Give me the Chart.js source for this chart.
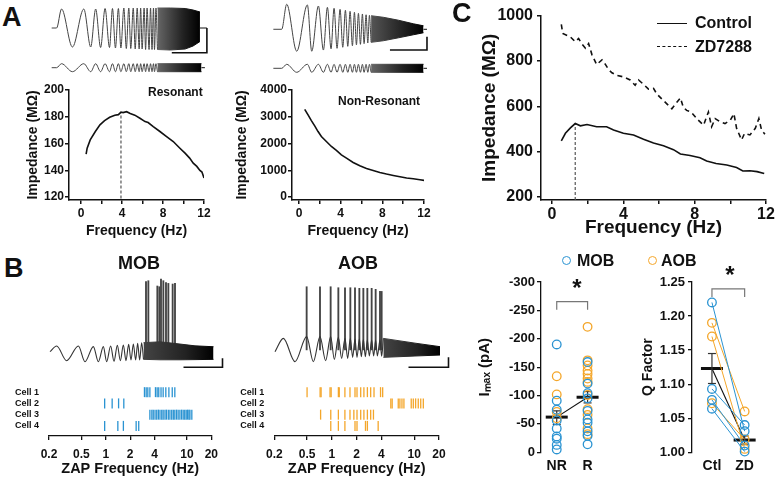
<!DOCTYPE html>
<html>
<head>
<meta charset="utf-8">
<script src="https://cdn.jsdelivr.net/npm/chart.js@4.4.1/dist/chart.umd.min.js"></script>
<style>
  html, body { margin: 0; padding: 0; background: #fff; overflow: hidden; }
  #fig { position: relative; width: 775px; height: 477px; overflow: hidden; background: #fff; }
  #fig canvas { position: absolute; }
  .txt { position: absolute; font-family: "Liberation Sans", Arial, sans-serif; font-weight: bold; color: #111; line-height: 1; white-space: nowrap; }
  .panel { font-size: 27px; }
  .ctr { transform: translateX(-50%); }
  .swatch { position: absolute; width: 30px; height: 0; }
  .dot { position: absolute; width: 7px; height: 7px; border-radius: 50%; border: 1.5px solid; }
</style>
</head>
<body>
<div id="fig">
  <canvas id="cA1t" width="170" height="78" style="left:45px;top:0px"></canvas>
  <canvas id="cA2t" width="170" height="78" style="left:270px;top:0px"></canvas>
  <canvas id="cA1" width="215" height="165" style="left:0px;top:80px"></canvas>
  <canvas id="cA2" width="213" height="165" style="left:222px;top:80px"></canvas>
  <canvas id="cC" width="321" height="243" style="left:455px;top:2px"></canvas>
  <canvas id="cBm" width="185" height="105" style="left:45px;top:270px"></canvas>
  <canvas id="cBa" width="185" height="105" style="left:270px;top:270px"></canvas>
  <canvas id="cRm" width="225" height="115" style="left:0px;top:370px"></canvas>
  <canvas id="cRa" width="230" height="115" style="left:225px;top:370px"></canvas>
  <canvas id="cI" width="147" height="209" style="left:470px;top:268px"></canvas>
  <canvas id="cQ" width="150" height="209" style="left:625px;top:268px"></canvas>

  <div class="txt panel" style="left:2px;top:4px">A</div>
  <div class="txt panel" style="left:4px;top:255px">B</div>
  <div class="txt panel" style="left:452px;top:0px">C</div>
  <div class="txt" style="left:148px;top:86px;font-size:12px">Resonant</div>
  <div class="txt" style="left:338px;top:95px;font-size:12px">Non-Resonant</div>
  <div class="txt ctr" style="left:139px;top:254px;font-size:18px">MOB</div>
  <div class="txt ctr" style="left:358px;top:254px;font-size:18px">AOB</div>

  <div class="swatch" style="left:657px;top:23px;border-top:1.6px solid #111"></div>
  <div class="txt" style="left:695px;top:15px;font-size:16px">Control</div>
  <div class="swatch" style="left:657px;top:46px;border-top:1.6px dashed #111"></div>
  <div class="txt" style="left:695px;top:39px;font-size:16px">ZD7288</div>

  <div class="dot" style="left:562px;top:256px;border-color:#2a93d2"></div>
  <div class="txt" style="left:577px;top:253px;font-size:16px">MOB</div>
  <div class="dot" style="left:648px;top:256px;border-color:#f4a62a"></div>
  <div class="txt" style="left:661px;top:253px;font-size:16px">AOB</div>

  <div class="txt ctr" style="left:577px;top:276px;font-size:24px">*</div>
  <div class="txt ctr" style="left:730px;top:263px;font-size:24px">*</div>
</div>

<script>
// ---- panel A: ZAP voltage / current traces (extrema) ----
const resT = [0, 1.0, 2.0, 4.2, 6.5, 7.9, 8.9, 9.9, 10.8, 11.7, 12.3, 12.9, 13.5, 14.0, 14.6, 15.1, 15.6, 16.0, 16.5, 16.9, 17.3, 17.7, 18.0, 18.3, 18.7, 19.0, 19.3, 19.7, 20.0, 20.3, 20.6, 20.8, 21.1, 21.4];
const resV = [0, 0, 3.8, -3.8, 3.8, -3.8, 3.8, -3.9, 3.9, -3.9, 3.9, -4.0, 3.9, -4.0, 4.0, -4.1, 4.0, -4.1, 4.0, -4.2, 4.0, -4.2, 4.0, -4.2, 4.0, -4.3, 4.0, -4.3, 4.0, -4.3, 4.0, -4.3, 4.0, -4.3];
const resCurV = [0, 0, 40, -40, 40, -40, 40, -40, 40, -40, 40, -40, 40, -40, 40, -40, 40, -40, 40, -40, 40, -40, 40, -40, 40, -40, 40, -40, 40, -40, 40, -40, 40, -40];
const resBandT = [21.4, 24, 27, 28.6, 30];
const resBandHi = [4.0, 4.0, 3.9, 3.6, 3.2];
const resBandLo = [-4.3, -4.4, -4.2, -3.6, -2.7];
const resCurBandT = [21.4, 30.3];
const resCurBandHi = [40, 40];
const resCurBandLo = [-40, -40];
const resTailT = [30, 31.4];
const resTailV = [0, 0];
const resCurTailT = [30.3, 31.0];
const resBarT = [24.3, 31.4, 31.4];
const resBarV = [-4.94, -4.94, 0];

const nrT = [0, 1.67, 2.67, 4.67, 6.8, 7.67, 9.0, 10.0, 10.8, 11.53, 12.13, 12.73, 13.33, 13.87, 14.4, 14.87, 15.33, 15.8, 16.2, 16.6, 17.0, 17.4, 17.8, 18.13, 18.53, 18.87, 19.2, 19.53];
const nrV = [0, 0, 18.8, -16.5, 18.3, -16.5, 17.5, -15.6, 16.5, -14.7, 15.8, -14.3, 15.0, -13.5, 14.3, -12.8, 13.5, -12.4, 12.8, -11.7, 12.0, -11.3, 11.5, -10.8, 10.9, -10.3, 10.5, -9.8];
const nrCurV = [0, 0, 40, -40, 40, -40, 40, -40, 40, -40, 40, -40, 40, -40, 40, -40, 40, -40, 40, -40, 40, -40, 40, -40, 40, -40, 40, -40];
const nrBandT = [19.53, 22, 25, 28, 30];
const nrBandHi = [10.2, 9.0, 6.8, 4.1, 2.6];
const nrBandLo = [-9.8, -8.6, -6.4, -4.1, -2.6];
const nrCurBandT = [19.53, 30];
const nrCurBandHi = [40, 40];
const nrCurBandLo = [-40, -40];
const nrTailT = [30, 30.7];
const nrTailV = [0, 0];
const nrBarT = [23.3, 30.7, 30.7];
const nrBarV = [-15.6, -15.6, -5.6];

// ---- panel A: impedance profiles ----
const resF = [0.5, 0.6, 0.9, 1.4, 1.85, 2.3, 2.8, 3.3, 3.65, 3.9, 4.1, 4.45, 4.8, 5.25, 5.75, 6.25, 6.55, 7.05, 7.7, 8.35, 9.0, 9.65, 10.15, 10.6, 10.95, 11.3, 11.6, 11.8, 12.0];
const resZ = [152, 156.5, 162.7, 169, 174, 177.1, 179.6, 181.2, 181.6, 183.5, 183.1, 183.8, 182.4, 181.2, 178.9, 176.4, 175.7, 172.7, 169, 165.2, 161.5, 156.5, 152.8, 149.1, 145.3, 142.9, 139.9, 138.7, 134.2];
const resPeakF = [3.9, 3.9];
const resPeakZ = [119, 183.5];
const nrF = [0.55, 0.87, 1.19, 1.51, 1.83, 2.15, 2.63, 3.11, 3.59, 4.07, 4.56, 5.2, 5.84, 6.48, 7.12, 7.76, 8.4, 9.05, 9.69, 10.33, 10.97, 11.61, 12.0];
const nrZ = [3279, 3068, 2857, 2658, 2447, 2260, 2074, 1888, 1739, 1577, 1453, 1292, 1167, 1068, 994, 919, 857, 807, 758, 708, 683, 646, 621];

// ---- panel C ----
const ctlF = [0.52, 0.75, 1.03, 1.3, 1.59, 1.96, 2.5, 3.06, 3.45, 4.0, 4.57, 5.13, 5.69, 6.25, 6.81, 7.2, 7.74, 8.3, 8.67, 9.2, 9.8, 10.35, 10.7, 11.1, 11.5, 11.9];
const ctlZ = [448, 481, 505, 524, 514, 520, 510, 510, 496, 481, 474, 455, 438, 426, 409, 390, 383, 373, 359, 348, 341, 330, 315, 316, 312, 304];
const zdF = [0.52, 0.6, 1.03, 1.3, 1.49, 1.68, 1.87, 2.05, 2.24, 2.5, 2.8, 3.0, 3.17, 3.36, 3.64, 4.0, 4.38, 4.66, 4.85, 5.13, 5.41, 5.69, 5.88, 6.16, 6.44, 6.72, 7.0, 7.2, 7.36, 7.55, 7.8, 8.2, 8.5, 8.77, 8.95, 9.15, 9.42, 9.7, 10.0, 10.2, 10.35, 10.63, 10.8, 11.1, 11.4, 11.6, 11.75, 11.94];
const zdZ = [961, 921, 906, 885, 899, 875, 856, 877, 827, 784, 805, 784, 762, 748, 736, 730, 716, 693, 716, 697, 676, 679, 654, 632, 611, 589, 618, 637, 596, 582, 575, 539, 517, 575, 510, 546, 532, 524, 539, 568, 503, 452, 481, 474, 503, 546, 496, 477];
const ctlPeakF = [1.3, 1.3];
const ctlPeakZ = [187, 522];

const freqTicks = [0, 2, 4, 6, 8, 10, 12];
const freqLabels = [0, 4, 8, 12];

// ---- panel B: spiking traces ----
const mobT = [0, 1.33, 3.33, 5.67, 7.0, 8.67, 9.67, 10.67, 11.33, 12.13, 12.8, 13.47, 14.07, 14.67, 15.2, 15.73, 16.2, 16.67, 17.13, 17.53, 17.93, 18.33, 18.7];
const mobV = [0, 6.3, -10, 6.3, -11.1, 5.6, -11.1, 5.6, -11.1, 6.3, -10.7, 7.0, -10, 7.4, -10, 8.1, -9.3, 8.5, -9.3, 9.3, -9.3, 10, -8.5];
const mobBandT = [18.7, 22, 26, 29, 32.7];
const mobBandHi = [10, 11, 8.5, 6.5, 5.5];
const mobBandLo = [-8.5, -9, -9, -8.8, -8.5];
const mobSpikeT = [19.2, 19.67, 21.47, 21.87, 22.2, 22.67, 23.2, 23.67, 24.53, 25.0];
const mobSpikeTop = [77.8, 78.9, 73, 72.2, 80.7, 78.9, 76.7, 75.9, 75.2, 75.9];
const mobBarT = [26.7, 34.5, 34.5];
const mobBarV = [-17.3, -17.3, -7.3];

const aobT = [0, 1.67, 4.0, 6.33, 7.67, 9.0, 10.13, 11.13, 11.87, 12.67, 13.33, 14.0, 14.53, 15.07, 15.53, 16.0, 16.4, 16.87, 17.27, 17.67, 18.07, 18.47, 18.87, 19.33, 19.73, 20.13, 20.47, 21.0, 21.33, 21.67];
const aobV = [0, 14.8, -11.1, 16.7, -11.1, 16.7, -10, 16.7, -8.5, 16, -7.4, 15, -7.4, 15, -6.3, 14, -6.3, 14, -5.6, 13.5, -5.6, 13, -4.8, 13, -4.8, 13, -4.8, 13, -5, 14.8];
const aobBandT = [21.67, 25, 28, 33];
const aobBandHi = [14.8, 12, 9.5, 5.6];
const aobBandLo = [-6.3, -5.5, -4.8, -3.7];
const aobSpikeT = [6.33, 9.0, 11.13, 12.67, 14.0, 15.07, 16.0, 16.87, 17.67, 18.47, 19.33, 20.13, 21.0, 21.33];
const aobSpikeTop = [72.2, 72.2, 72.2, 71.1, 71.1, 71.1, 71.1, 70.4, 70.4, 70.4, 70.4, 69.3, 67, 67];
const aobBarT = [26.7, 34.7, 34.7];
const aobBarV = [-17.3, -17.3, -6.2];
const spikeBase = 2;

// ---- panel B: rasters (spike frequency, Hz) ----
const cellLabels = ['Cell 1', 'Cell 2', 'Cell 3', 'Cell 4'];
const zapTicks = [0.2, 0.5, 1, 2, 4, 10, 20];
const mobCell1 = [3.0, 3.15, 3.3, 3.5, 4.1, 4.3, 4.5, 4.8, 5.1, 5.5, 6.0, 6.6, 7.1];
const mobCell2 = [0.97, 1.2, 1.44, 1.67];
const mobCell3 = [3.5, 3.7, 3.85, 4.05, 4.25, 4.45, 4.66, 4.9, 5.1, 5.37, 5.6, 5.9, 6.18, 6.5, 6.8, 7.1, 7.45, 7.8, 8.2, 8.6, 9.0, 9.4, 9.8, 10.2, 10.6, 10.9, 11.5];
const mobCell4 = [0.97, 1.41, 1.65, 2.37, 2.55];
const aobCell1 = [0.5, 0.72, 0.74, 0.95, 0.98, 1.2, 1.23, 1.44, 1.66, 1.91, 2.02, 2.24, 2.45, 2.7, 2.96, 3.25, 3.9, 4.14];
const aobCell2 = [5.2, 5.4, 6.4, 6.7, 7.1, 7.5, 9.2, 9.75, 10.4, 11.2, 12.0, 12.9];
const aobCell3 = [0.73, 0.97, 1.2, 1.44, 1.66, 1.85, 2.02, 2.24, 2.45, 2.7, 2.96, 3.2];
const aobCell4 = [0.97, 1.2, 1.44, 1.91, 2.02, 2.56, 2.7, 3.65];

// ---- Imax (pA) ----
const imaxGroups = ['NR', 'R'];
const imaxTicks = [-300, -250, -200, -150, -100, -50, 0];
const imaxNRMob = [-190, -91, -75, -56, -42, -28, -24, -13, -5];
const imaxNRAob = [-134, -102, -71, -60];
const imaxRMob = [-159, -121, -104, -95, -73, -58, -52, -37, -29, -14];
const imaxRAob = [-221, -162, -153, -144, -138, -130, -124, -101, -76, -66, -42, -32];
const imaxMean = [-62, -97];
const imaxSemLo = [-49, -87];
const imaxSemHi = [-73, -107];
const imaxBracketX = [0, 0, 1, 1];
const imaxBracketY = [-251, -265.5, -265.5, -251];

// ---- Q factor ----
const qGroups = ['Ctl', 'ZD'];
const qTicks = [1.00, 1.05, 1.10, 1.15, 1.20, 1.25];
const qCtlMob = [1.220, 1.093, 1.077, 1.064];
const qZdMob = [1.031, 1.040, 1.010, 1.001];
const qCtlAob = [1.190, 1.170, 1.072];
const qZdAob = [1.060, 1.005, 1.019];
const qMean = [1.123, 1.018];
const qSemLo = [1.101, 1.012];
const qSemHi = [1.145, 1.024];
const qBracketX = [0, 0, 1, 1];
const qBracketY = [1.228, 1.240, 1.240, 1.228];

const BLUE = '#2a93d2';
const ORANGE = '#f4a62a';
const INK = '#111';
const FONT = '"Liberation Sans", Arial, sans-serif';

Chart.defaults.font.family = FONT;
Chart.defaults.font.weight = 'bold';
Chart.defaults.color = INK;
Chart.defaults.animation = false;
Chart.defaults.responsive = false;
Chart.defaults.devicePixelRatio = 1;
Chart.defaults.events = [];
Chart.defaults.plugins.legend.display = false;
Chart.defaults.plugins.tooltip.enabled = false;
Chart.defaults.elements.point.radius = 0;
Chart.defaults.elements.line.tension = 0;

const pts = (xs, ys) => xs.map((x, i) => ({ x, y: ys[i] }));
const ticksFrom = vals => s => { s.ticks = vals.map(v => ({ value: v })); };

// grey-to-black fill for the dense end of a chirp
function sweepFill(t0, t1, c0, c1) {
  return ctx => {
    const ch = ctx.chart;
    if (!ch.chartArea) return c1;
    const x = ch.scales.x;
    const g = ch.ctx.createLinearGradient(x.getPixelForValue(t0), 0, x.getPixelForValue(t1), 0);
    g.addColorStop(0, c0);
    g.addColorStop(0.6, '#222');
    g.addColorStop(1, c1);
    return g;
  };
}

function band(ts, hi, lo, yAxisID, c0) {
  const col = sweepFill(ts[0], ts[ts.length - 1], c0, '#000');
  return [
    { data: pts(ts, hi), yAxisID, borderColor: col, backgroundColor: col, borderWidth: 1, fill: '+1' },
    { data: pts(ts, lo), yAxisID, borderColor: col, borderWidth: 1, fill: false }
  ];
}

// smooth curve through the read peaks and troughs
function traceLine(xs, ys, yAxisID, color, width) {
  return { data: pts(xs, ys), yAxisID, borderColor: color, borderWidth: width, fill: false,
           cubicInterpolationMode: 'monotone' };
}

function barLine(xs, ys) {
  return { data: pts(xs, ys), yAxisID: 'yv', borderColor: INK, borderWidth: 1.6, fill: false };
}

function spikes(ts, tops) {
  return {
    type: 'bar', xAxisID: 'x', yAxisID: 'yv',
    data: ts.map((t, i) => ({ x: t, y: [spikeBase, tops[i]] })),
    backgroundColor: '#444', barThickness: 1.2, borderWidth: 0
  };
}

function traceChart(id, datasets, xr, yv, yc) {
  const scales = {
    x: { type: 'linear', display: false, min: xr[0], max: xr[1], offset: false },
    yv: { type: 'linear', display: false, min: yv[0], max: yv[1] }
  };
  if (yc) scales.yc = { type: 'linear', display: false, min: yc[0], max: yc[1] };
  return new Chart(document.getElementById(id), {
    type: 'line',
    data: { datasets },
    options: { layout: { padding: 0 }, scales }
  });
}

// A traces
traceChart('cA1t', [
  traceLine(resT, resV, 'yv', '#444', 1),
  ...band(resBandT, resBandHi, resBandLo, 'yv', '#666'),
  traceLine(resTailT, resTailV, 'yv', INK, 1),
  traceLine(resT, resCurV, 'yc', '#444', 1),
  ...band(resCurBandT, resCurBandHi, resCurBandLo, 'yc', '#666'),
  traceLine(resCurTailT, resTailV, 'yc', INK, 1),
  barLine(resBarT, resBarV)
], [-1.35, 33.04], [-10, 5.6], [-103, 677]);

traceChart('cA2t', [
  traceLine(nrT, nrV, 'yv', '#444', 1),
  ...band(nrBandT, nrBandHi, nrBandLo, 'yv', '#555'),
  traceLine(nrTailT, nrTailV, 'yv', INK, 1),
  traceLine(nrT, nrCurV, 'yc', '#444', 1),
  ...band(nrCurBandT, nrCurBandHi, nrCurBandLo, 'yc', '#666'),
  traceLine(nrTailT, nrTailV, 'yc', INK, 1),
  barLine(nrBarT, nrBarV)
], [-0.67, 33.3], [-36.6, 22.0], [-97, 683]);

// B traces
traceChart('cBm', [
  traceLine(mobT, mobV, 'yv', '#333', 1.1),
  ...band(mobBandT, mobBandHi, mobBandLo, 'yv', '#444'),
  spikes(mobSpikeT, mobSpikeTop),
  barLine(mobBarT, mobBarV)
], [-1, 36], [-25.9, 90.8]);

traceChart('cBa', [
  traceLine(aobT, aobV, 'yv', '#333', 1.1),
  ...band(aobBandT, aobBandHi, aobBandLo, 'yv', '#444'),
  spikes(aobSpikeT, aobSpikeTop),
  barLine(aobBarT, aobBarV)
], [-1, 36], [-25.9, 90.8]);

// impedance plots
function impedanceChart(id, datasets, o) {
  return new Chart(document.getElementById(id), {
    type: 'line',
    data: { datasets },
    options: {
      layout: { padding: { top: o.padTop, right: o.padRight, left: 0, bottom: 0 } },
      scales: {
        x: {
          type: 'linear', min: o.xMin, max: 12,
          afterFit: s => { s.height = o.xH; },
          afterBuildTicks: ticksFrom(freqTicks),
          border: { color: INK, width: 1.5 },
          grid: { drawOnChartArea: false, color: INK, lineWidth: 1.5, tickLength: 4 },
          ticks: { font: { size: o.tick }, padding: o.xTickPad, autoSkip: false, maxRotation: 0,
                   callback: v => freqLabels.includes(v) ? String(v) : '' },
          title: { display: true, text: 'Frequency (Hz)', font: { size: o.title }, padding: { top: 0, bottom: o.xTitlePad } }
        },
        y: {
          type: 'linear', min: o.yMin, max: o.yMax,
          afterFit: s => { s.width = o.yW; },
          afterBuildTicks: ticksFrom(o.yTicks),
          border: { color: INK, width: 1.5 },
          grid: { drawOnChartArea: false, color: INK, lineWidth: 1.5, tickLength: 4 },
          ticks: { font: { size: o.tick }, padding: o.yTickPad, callback: v => String(v) },
          title: { display: true, text: 'Impedance (MΩ)', font: { size: o.title }, padding: { top: o.yTitlePad, bottom: 0 } }
        }
      }
    }
  });
}

impedanceChart('cA1', [
  { data: pts(resF, resZ), borderColor: INK, borderWidth: 1.6 },
  { data: pts(resPeakF, resPeakZ), borderColor: '#555', borderWidth: 1.2, borderDash: [3, 2] }
], { padTop: 10, padRight: 11, xH: 45, yW: 69, xMin: -1.17, yMin: 117.8, yMax: 200,
     yTicks: [120, 140, 160, 180, 200], tick: 12, title: 14, xTickPad: 2, yTickPad: 1,
     xTitlePad: 5.6, yTitlePad: 24.6 });

impedanceChart('cA2', [
  { data: pts(nrF, nrZ), borderColor: INK, borderWidth: 1.6 }
], { padTop: 10, padRight: 11, xH: 45, yW: 70, xMin: -0.67, yMin: -112, yMax: 4000,
     yTicks: [0, 1000, 2000, 3000, 4000], tick: 12, title: 14, xTickPad: 2, yTickPad: 1,
     xTitlePad: 5.6, yTitlePad: 11.6 });

impedanceChart('cC', [
  { data: pts(ctlF, ctlZ), borderColor: INK, borderWidth: 1.6 },
  { data: pts(zdF, zdZ), borderColor: INK, borderWidth: 1.6, borderDash: [5, 4] },
  { data: pts(ctlPeakF, ctlPeakZ), borderColor: '#555', borderWidth: 1.2, borderDash: [3, 2] }
], { padTop: 10, padRight: 10, xH: 45, yW: 86, xMin: -0.62, yMin: 187, yMax: 1000,
     yTicks: [200, 400, 600, 800, 1000], tick: 16, title: 19, xTickPad: 1, yTickPad: 4,
     xTitlePad: 5.6, yTitlePad: 23.6 });

// rasters
function rasterChart(id, cells, color, o) {
  return new Chart(document.getElementById(id), {
    type: 'scatter',
    data: {
      datasets: cells.map((c, i) => ({
        data: c.map(f => ({ x: f, y: i })),
        pointStyle: 'line', rotation: 90, pointRadius: 5,
        pointBorderWidth: 1.3, pointBorderColor: color, clip: false
      }))
    },
    options: {
      layout: { padding: { top: 7, right: o.padRight, left: 0, bottom: 0 } },
      scales: {
        x: {
          type: 'logarithmic', min: 0.2, max: 20,
          afterFit: s => { s.height = 49; },
          afterBuildTicks: ticksFrom(zapTicks),
          border: { color: INK, width: 1.3 },
          grid: { drawOnChartArea: false, color: INK, lineWidth: 1.3, tickLength: 4 },
          ticks: { font: { size: 12 }, padding: 7, autoSkip: false, maxRotation: 0, callback: v => String(v) },
          title: { display: true, text: 'ZAP Frequency (Hz)', font: { size: 14.5 }, padding: { top: 0, bottom: 7.5 } }
        },
        y: {
          type: 'linear', reverse: true, min: -0.6, max: 3.9,
          afterFit: s => { s.width = o.yW; },
          afterBuildTicks: ticksFrom(cellLabels.map((_, i) => i)),
          border: { display: false },
          grid: { display: false, drawTicks: false },
          ticks: { font: { size: 9 }, padding: 10, callback: v => cellLabels[v] }
        }
      }
    }
  });
}

rasterChart('cRm', [mobCell1, mobCell2, mobCell3, mobCell4], BLUE, { yW: 49, padRight: 13 });
rasterChart('cRa', [aobCell1, aobCell2, aobCell3, aobCell4], ORANGE, { yW: 49.3, padRight: 16 });

// group scatter plots
function circles(group, vals, color) {
  return {
    data: vals.map(v => ({ x: group, y: v })),
    pointStyle: 'circle', pointRadius: 4.3, pointBorderWidth: 1.3,
    pointBorderColor: color, pointBackgroundColor: 'rgba(0,0,0,0)', clip: false
  };
}

function pairs(ctl, zd, color) {
  return ctl.map((c, i) => ({
    data: [{ x: 0, y: c }, { x: 1, y: zd[i] }],
    showLine: true, borderColor: color, borderWidth: 1,
    pointStyle: 'circle', pointRadius: 4.3, pointBorderWidth: 1.3,
    pointBorderColor: color, pointBackgroundColor: 'rgba(0,0,0,0)', clip: false
  }));
}

function summary(mean, lo, hi, bx, by) {
  const sets = mean.map((m, i) => ({
    data: [{ x: i, y: lo[i] }, { x: i, y: hi[i] }],
    showLine: true, borderColor: '#333', borderWidth: 1.2,
    pointStyle: 'line', pointRadius: 4, pointBorderWidth: 1.2, pointBorderColor: '#333', clip: false
  }));
  sets.push({
    data: mean.map((m, i) => ({ x: i, y: m })),
    showLine: true, borderColor: INK, borderWidth: 1.1,
    pointStyle: 'line', pointRadius: 11, pointBorderWidth: 3, pointBorderColor: INK, clip: false
  });
  sets.push({ data: pts(bx, by), showLine: true, borderColor: '#777', borderWidth: 1.2, clip: false });
  return sets;
}

function groupChart(id, datasets, o) {
  return new Chart(document.getElementById(id), {
    type: 'scatter',
    data: { datasets },
    options: {
      layout: { padding: { top: 10.3, right: o.padRight, left: 0, bottom: 0 } },
      scales: {
        x: {
          type: 'linear', min: o.xMin, max: 1.5,
          afterFit: s => { s.height = 24.7; },
          afterBuildTicks: ticksFrom(o.groups.map((_, i) => i)),
          border: { display: false },
          grid: { display: false, drawTicks: false },
          ticks: { font: { size: 14 }, padding: 5, autoSkip: false, callback: v => o.groups[v] }
        },
        y: {
          type: 'linear', reverse: o.reverse, min: o.yMin, max: o.yMax,
          afterFit: s => { s.width = o.yW; },
          afterBuildTicks: ticksFrom(o.yTicks),
          border: { color: INK, width: 1.3 },
          grid: { drawOnChartArea: false, color: INK, lineWidth: 1.3, tickLength: 4 },
          ticks: { font: { size: 13 }, padding: o.yTickPad, callback: o.fmt },
          title: { display: true, text: o.title, font: { size: o.titleSize }, padding: { top: o.yTitlePad, bottom: 0 } }
        }
      }
    }
  });
}

groupChart('cI', [
  circles(0, imaxNRMob, BLUE), circles(0, imaxNRAob, ORANGE),
  circles(1, imaxRMob, BLUE), circles(1, imaxRAob, ORANGE),
  ...summary(imaxMean, imaxSemLo, imaxSemHi, imaxBracketX, imaxBracketY)
], { groups: imaxGroups, xMin: -0.51, padRight: 5, yW: 71, reverse: true, yMin: -300, yMax: 0,
     yTicks: imaxTicks, yTickPad: 2, fmt: v => String(v), title: 'Iₘₐₓ (pA)', titleSize: 15, yTitlePad: 5.6 });

groupChart('cQ', [
  ...pairs(qCtlMob, qZdMob, BLUE), ...pairs(qCtlAob, qZdAob, ORANGE),
  ...summary(qMean, qSemLo, qSemHi, qBracketX, qBracketY)
], { groups: qGroups, xMin: -0.61, padRight: 9.2, yW: 67, reverse: false, yMin: 1.0, yMax: 1.25,
     yTicks: qTicks, yTickPad: 3, fmt: v => v.toFixed(2), title: 'Q Factor', titleSize: 14, yTitlePad: 14.6 });
</script>
</body>
</html>
